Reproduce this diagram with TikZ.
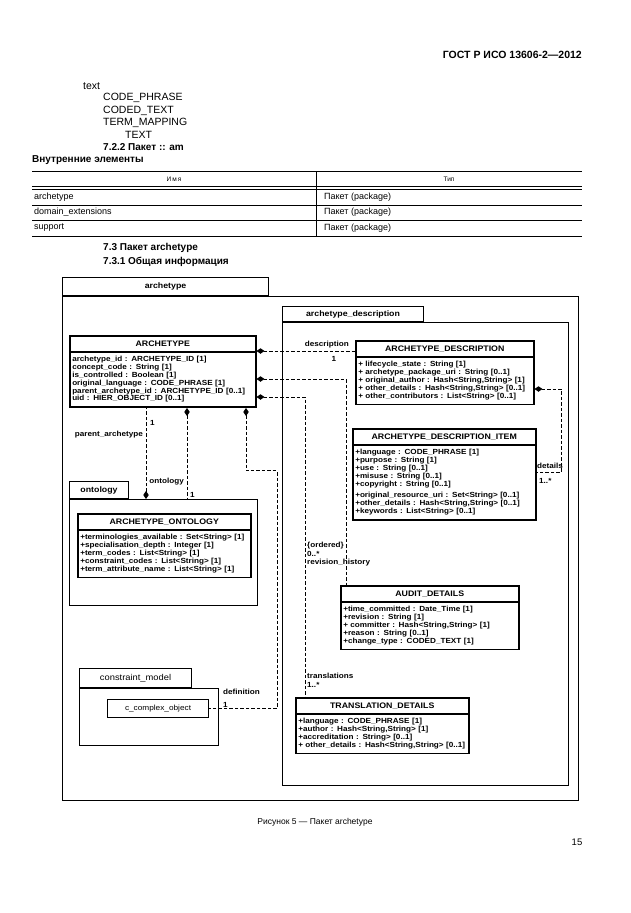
\documentclass[tikz,border=0pt]{standalone}
\usepackage{fontspec}
\setmainfont{Liberation Sans}
\newfontfamily\umlfont[FakeStretch=1.1]{Liberation Sans}
\usetikzlibrary{arrows.meta,positioning,calc,shapes.multipart}
\newcommand\attrfont{\umlfont\bfseries\fontsize{7.4}{7.8}\selectfont}
\newcommand\clsfont{\umlfont\bfseries\fontsize{8}{8.5}\selectfont}
\newcommand\hstrut{\rule[-1pt]{0pt}{5.5pt}}

\begin{document}
\begin{tikzpicture}[x=1pt,y=-1pt,
    txt/.style={anchor=west,inner sep=0pt,font=\fontsize{10.5}{12}\selectfont},
    hd/.style={anchor=west,inner sep=0pt,font=\bfseries\fontsize{10}{12}\selectfont},
    cell/.style={anchor=west,inner sep=0pt,font=\fontsize{9}{10}\selectfont},
    pkg/.style={draw,line width=1.1pt,anchor=north west,inner sep=0pt},
    pkgtab/.style={draw,line width=1.1pt,anchor=south west,inner sep=0pt,font=\umlfont\bfseries\fontsize{8}{8.5}\selectfont},
    cls/.style={draw,line width=1.5pt,rectangle split,rectangle split parts=2,anchor=north west,
        inner xsep=2.5pt,inner ysep=4pt,align=left,font=\attrfont},
    lbl/.style={inner sep=0pt,font=\attrfont},
    a/.style={{Diamond[length=8pt,width=5.5pt]}-,line width=1pt,dash pattern=on 3.5pt off 2pt}]
    \useasboundingbox (0,0) rectangle (630,913);
    % page text
    \node[anchor=east,inner sep=0pt,font=\bfseries\fontsize{10.5}{12}\selectfont] (gost) at (582,55) {ГОСТ Р ИСО 13606-2—2012};
    \node[txt] (t1) at (83,86) {text};
    \node[txt] (t2) at (103,98) {CODE\_PHRASE};
    \node[txt] (t3) at (103,111) {CODED\_TEXT};
    \node[txt] (t4) at (103,123) {TERM\_MAPPING};
    \node[txt] (t5) at (125,135) {TEXT};
    \node[hd] (h1) at (103,147) {7.2.2 Пакет :: am};
    \node[hd] (h2) at (32,160) {Внутренние элементы};
    % table
    \draw[line width=0.9pt] (32,171) -- (582,171);
    \draw[line width=0.6pt] (32,186) -- (582,186) (32,189) -- (582,189);
    \draw[line width=0.9pt] (32,205) -- (582,205) (32,220) -- (582,220) (32,236) -- (582,236);
    \draw[line width=0.7pt] (316,171) -- (316,236);
    \node[font=\fontsize{6.5}{8}\selectfont] (nm) at (174,179) {И\,м\,я};
    \node[font=\fontsize{6.5}{8}\selectfont] (tp) at (449,179) {Тип};
    \node[cell] (r1a) at (34,197) {archetype};
    \node[cell] (r1b) at (324,197) {Пакет (package)};
    \node[cell] (r2a) at (34,212) {domain\_extensions};
    \node[cell] (r2b) at (324,212) {Пакет (package)};
    \node[cell] (r3a) at (34,228) {support};
    \node[cell] (r3b) at (324,228) {Пакет (package)};
    \node[hd] (h3) at (103,248) {7.3 Пакет archetype};
    \node[hd] (h4) at (103,262) {7.3.1 Общая информация};
    % packages
    \node[pkg,minimum width=516pt,minimum height=504pt] (pArch) at (62,296) {};
    \node[pkgtab,minimum width=206pt,minimum height=18pt] (pArchT) at (pArch.north west) {archetype};
    \node[pkg,minimum width=286pt,minimum height=463pt] (pDesc) at (282,322) {};
    \node[pkgtab,minimum width=141pt,minimum height=15pt] (pDescT) at (pDesc.north west) {archetype\_description};
    \node[pkg,minimum width=188pt,minimum height=106pt] (pOnt) at (69,499) {};
    \node[pkgtab,minimum width=59pt,minimum height=17pt] (pOntT) at (pOnt.north west) {ontology};
    \node[pkg,minimum width=139pt,minimum height=57pt] (pCon) at (79,688) {};
    \node[pkgtab,font=\umlfont\fontsize{8.5}{9}\selectfont,minimum width=112pt,minimum height=19pt] (pConT) at (pCon.north west) {constraint\_model};
    \node[draw,line width=1.1pt,minimum width=101pt,minimum height=18pt,anchor=north west,inner sep=0pt,font=\umlfont\fontsize{7.5}{8}\selectfont] (cco) at (107,699) {c\_complex\_object};
    % classes
    \node[cls,text width=181pt,minimum height=76pt] (arch) at (69,335)
        {{\centering\clsfont\hstrut ARCHETYPE\par}\nodepart{two}archetype\_id : ARCHETYPE\_ID [1]\\concept\_code : String [1]\\is\_controlled : Boolean [1]\\original\_language : CODE\_PHRASE [1]\\parent\_archetype\_id : ARCHETYPE\_ID [0..1]\\uid : HIER\_OBJECT\_ID [0..1]};
    \node[cls,text width=173pt,minimum height=74pt] (ad) at (355,340)
        {{\centering\clsfont\hstrut ARCHETYPE\_DESCRIPTION\par}\nodepart{two}+ lifecycle\_state : String [1]\\+ archetype\_package\_uri : String [0..1]\\+ original\_author : Hash<String,String> [1]\\+ other\_details : Hash<String,String> [0..1]\\+ other\_contributors : List<String> [0..1]};
    \node[cls,text width=178pt,minimum height=100pt] (adi) at (352,428)
        {{\centering\clsfont\hstrut ARCHETYPE\_DESCRIPTION\_ITEM\par}\nodepart{two}+language : CODE\_PHRASE [1]\\+purpose : String [1]\\+use : String [0..1]\\+misuse : String [0..1]\\+copyright : String [0..1]\\[4pt]+original\_resource\_uri : Set<String> [0..1]\\+other\_details : Hash<String,String> [0..1]\\+keywords : List<String> [0..1]};
    \node[cls,text width=168pt,minimum height=75pt] (ont) at (77,513)
        {{\centering\clsfont\hstrut ARCHETYPE\_ONTOLOGY\par}\nodepart{two}+terminologies\_available : Set<String> [1]\\+specialisation\_depth : Integer [1]\\+term\_codes : List<String> [1]\\+constraint\_codes : List<String> [1]\\+term\_attribute\_name : List<String> [1]};
    \node[cls,text width=173pt,minimum height=75pt] (aud) at (340,585)
        {{\centering\clsfont\hstrut AUDIT\_DETAILS\par}\nodepart{two}+time\_committed : Date\_Time [1]\\+revision : String [1]\\+ committer : Hash<String,String> [1]\\+reason : String [0..1]\\+change\_type : CODED\_TEXT [1]};
    \node[cls,text width=168pt,minimum height=66pt] (trd) at (295,697)
        {{\centering\clsfont\hstrut TRANSLATION\_DETAILS\par}\nodepart{two}+language : CODE\_PHRASE [1]\\+author : Hash<String,String> [1]\\+accreditation : String> [0..1]\\+ other\_details : Hash<String,String> [0..1]};
    % associations
    \draw[a] ($(arch.north east)+(0,16)$) -- ($(ad.north west)+(0,11)$);
    \draw[a] ($(arch.north east)+(0,44)$) -| ($(aud.north west)+(6,0)$);
    \draw[a] ($(arch.north east)+(0,62)$) -| ($(trd.north west)+(10,0)$);
    \draw[a] ($(ad.north east)+(0,49)$) -- ++(27,0) |- ($(adi.north east)+(0,44)$);
    \draw[a] ($(pOnt.north west)+(77,0)$) -- ($(arch.south west)+(77,0)$);
    \draw[a] ($(arch.south west)+(118,0)$) -- ($(pOnt.north west)+(118,0)$);
    \draw[a] ($(arch.south west)+(177,0)$) -- ++(0,63) -- ++(31,0) |- (cco.east);
    \node[lbl,anchor=east] (lDesc) at (349,345) {description};
    \node[lbl] (lDescM) at (334,359) {1};
    \node[lbl,anchor=west] (lOrd) at (307,546) {\{ordered\}};
    \node[lbl,anchor=west] (lRevM) at (307,554) {0..*};
    \node[lbl,anchor=west] (lRev) at (307,563) {revision\_history};
    \node[lbl,anchor=west] (lTr) at (307,676) {translations};
    \node[lbl,anchor=west] (lTrM) at (307,685) {1..*};
    \node[lbl,anchor=east] (lPar) at (143,435) {parent\_archetype};
    \node[lbl,anchor=west] (lParM) at (150,423) {1};
    \node[lbl,anchor=east] (lOnt) at (184,482) {ontology};
    \node[lbl,anchor=west] (lOntM) at (190,495) {1};
    \node[lbl,anchor=west] (lDef) at (223,692) {definition};
    \node[lbl,anchor=west] (lDefM) at (223,705) {1};
    \node[lbl,anchor=west] (lDet) at (537,466) {details};
    \node[lbl,anchor=west] (lDetM) at (539,481) {1..*};
    % caption
    \node[font=\fontsize{8.5}{10}\selectfont] (cap) at (315,822) {Рисунок 5 — Пакет archetype};
    \node[font=\fontsize{9.5}{10}\selectfont] (pg) at (577,842) {15};
\end{tikzpicture}
\end{document}
